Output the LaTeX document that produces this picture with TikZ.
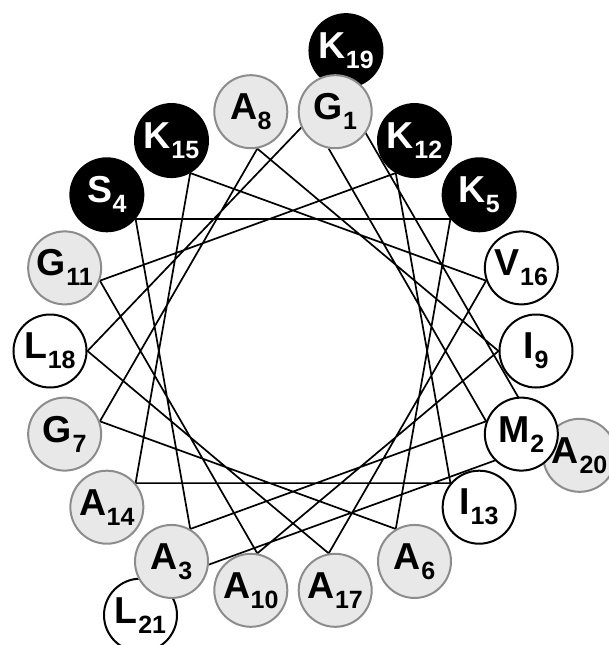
\documentclass[tikz,border=0pt]{standalone}
\usepackage{fontspec}
\setmainfont{Liberation Sans}
\pgfdeclarelayer{bg}
\pgfsetlayers{bg,main}
\newcommand\reslab[2]{#1\kern0.5pt\raisebox{-10pt}{\fontsize{25}{25}\selectfont\bfseries #2}}
\begin{document}
\begin{tikzpicture}[x=1pt,y=-1pt,
  res/.style={circle, minimum size=73pt, inner sep=0pt, line width=2pt, font=\fontsize{37.5}{37.5}\selectfont\bfseries},
  hyd/.style={res, draw=black, fill=white, text=black},
  sml/.style={res, draw=black!45, fill=black!9, text=black},
  chg/.style={res, draw=black, fill=black, text=white},
  link/.style={line width=1.7pt, black}]
\useasboundingbox (0,0) rectangle (609,645);
% outer ring
\node[chg] (r19) at ({293+305*cos(80)},{351-305*sin(80)}) {\reslab{K}{19}};
\node[sml] (r20) at ({293+305*cos(340)},{351-305*sin(340)}) {\reslab{A}{20}};
\node[hyd] (r21) at ({293+305*cos(240)},{351-305*sin(240)}) {\reslab{L}{21}};
% inner ring
\node[sml] (r1) at ({293+243*cos(80)},{351-243*sin(80)}) {\reslab{G}{1}};
\node[hyd] (r2) at ({293+243*cos(340)},{351-243*sin(340)}) {\reslab{M}{2}};
\node[sml] (r3) at ({293+243*cos(240)},{351-243*sin(240)}) {\reslab{A}{3}};
\node[chg] (r4) at ({293+243*cos(140)},{351-243*sin(140)}) {\reslab{S}{4}};
\node[chg] (r5) at ({293+243*cos(40)},{351-243*sin(40)}) {\reslab{K}{5}};
\node[sml] (r6) at ({293+243*cos(300)},{351-243*sin(300)}) {\reslab{A}{6}};
\node[sml] (r7) at ({293+243*cos(200)},{351-243*sin(200)}) {\reslab{G}{7}};
\node[sml] (r8) at ({293+243*cos(100)},{351-243*sin(100)}) {\reslab{A}{8}};
\node[hyd] (r9) at ({293+243*cos(0)},{351-243*sin(0)}) {\reslab{I}{9}};
\node[sml] (r10) at ({293+243*cos(260)},{351-243*sin(260)}) {\reslab{A}{10}};
\node[sml] (r11) at ({293+243*cos(160)},{351-243*sin(160)}) {\reslab{G}{11}};
\node[chg] (r12) at ({293+243*cos(60)},{351-243*sin(60)}) {\reslab{K}{12}};
\node[hyd] (r13) at ({293+243*cos(320)},{351-243*sin(320)}) {\reslab{I}{13}};
\node[sml] (r14) at ({293+243*cos(220)},{351-243*sin(220)}) {\reslab{A}{14}};
\node[chg] (r15) at ({293+243*cos(120)},{351-243*sin(120)}) {\reslab{K}{15}};
\node[hyd] (r16) at ({293+243*cos(20)},{351-243*sin(20)}) {\reslab{V}{16}};
\node[sml] (r17) at ({293+243*cos(280)},{351-243*sin(280)}) {\reslab{A}{17}};
\node[hyd] (r18) at ({293+243*cos(180)},{351-243*sin(180)}) {\reslab{L}{18}};
\begin{pgfonlayer}{bg}
\draw[link] (r1.260) -- (r2.160) -- (r3.60) -- (r4.320) -- (r5.220) -- (r6.120)
  -- (r7.20) -- (r8.280) -- (r9.180) -- (r10.80) -- (r11.340) -- (r12.240)
  -- (r13.140) -- (r14.40) -- (r15.300) -- (r16.200) -- (r17.100) -- (r18.0)
  -- (r19.260) -- (r20.160) -- (r21.60);
\end{pgfonlayer}
\end{tikzpicture}
\end{document}
